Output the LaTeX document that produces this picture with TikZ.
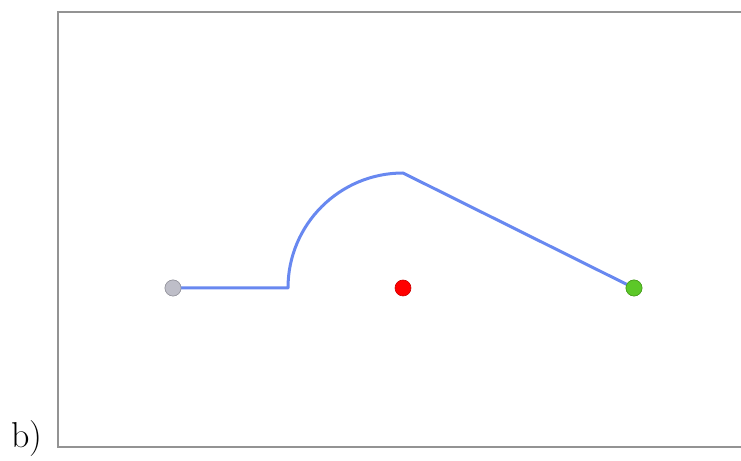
\documentclass[tikz,border=0pt]{standalone}
\usetikzlibrary{positioning}
\definecolor{pathblue}{RGB}{104,136,240}
\definecolor{startgrey}{RGB}{190,190,200}
\definecolor{goalgreen}{RGB}{92,200,40}
\tikzset{
  dot/.style={circle,inner sep=0pt,minimum size=8pt,draw=#1!80!black,line width=0.3pt,fill=#1},
  route/.style={pathblue,line width=1.5pt,line join=round}
}
\begin{document}
\begin{tikzpicture}[x=0.5pt,y=0.5pt]
\useasboundingbox (0,0) rectangle (741,461);
\draw[gray!85,line width=1pt] (741,449)--(58,449)--(58,14)--(741,14);
\node[font=\fontsize{18}{21}\selectfont] (lbl) at (27,22) {b)};
\coordinate (turn) at (288,173);
\node[dot=startgrey] (start) at (173,173) {};
\node[dot=red] (centre) at (403,173) {};
\node[dot=goalgreen] (goal) at (634,173) {};
\draw[route] (start.center)--(turn) arc[start angle=180,end angle=90,radius=115]--(goal.center);
\node[dot=startgrey] at (start) {};
\node[dot=goalgreen] at (goal) {};
\end{tikzpicture}
\end{document}
